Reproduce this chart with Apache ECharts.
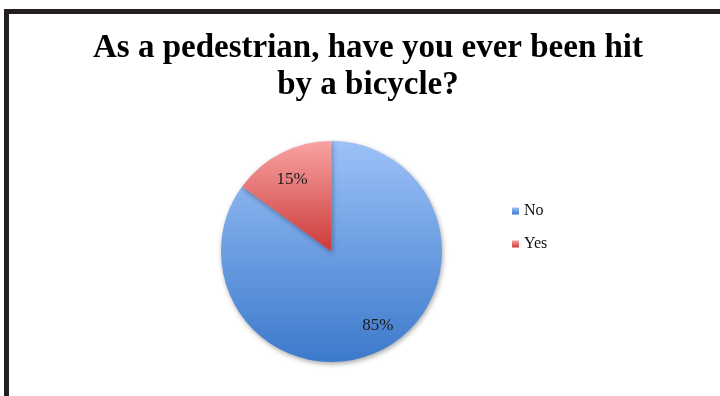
<!DOCTYPE html>
<html>
<head>
<meta charset="utf-8">
<script src="https://cdn.jsdelivr.net/npm/echarts@6/dist/echarts.min.js"></script>
<style>
  html, body { margin: 0; padding: 0; background: #ffffff; }
  #chart { width: 720px; height: 396px; }
</style>
</head>
<body>
<div id="chart"></div>
<script>
// Survey answers and their shares (percent)
const categories = ['No', 'Yes'];
const shares = [85, 15];
const titleText = 'As a pedestrian, have you ever been hit\nby a bicycle?';

// Vertical gradients for each slice: [top colour, bottom colour]
const sliceGradients = [
  ['#9cc1f8', '#3c7acb'],
  ['#f8a3a2', '#cc3a39']
];

const chart = echarts.init(document.getElementById('chart'), null, { renderer: 'canvas' });

const pieData = categories.map((name, i) => ({
  name: name,
  value: shares[i],
  itemStyle: {
    color: new echarts.graphic.LinearGradient(0, 0, 0, 1, [
      { offset: 0, color: sliceGradients[i][0] },
      { offset: 1, color: sliceGradients[i][1] }
    ])
  }
}));

// Nudges that move each percentage label out towards the rim
const labelNudge = [[20, 22], [-13, -20]];

chart.setOption({
  backgroundColor: '#ffffff',
  animation: false,
  title: {
    text: titleText,
    left: 363,
    top: 25,
    textAlign: 'center',
    textStyle: {
      fontFamily: 'Liberation Serif',
      fontWeight: 'bold',
      fontSize: 33,
      lineHeight: 37,
      color: '#000000'
    }
  },
  legend: {
    orient: 'vertical',
    left: 507,
    top: 198,
    itemWidth: 7,
    itemHeight: 7,
    itemGap: 17,
    icon: 'rect',
    data: categories,
    textStyle: {
      fontFamily: 'Liberation Serif',
      fontSize: 16,
      lineHeight: 16,
      color: '#111111'
    }
  },
  graphic: [
    { type: 'rect', shape: { x: 4, y: 9, width: 716, height: 5 }, style: { fill: '#231f20' } },
    { type: 'rect', shape: { x: 4, y: 9, width: 5, height: 387 }, style: { fill: '#231f20' } }
  ],
  series: [{
    type: 'pie',
    center: [331.5, 251.5],
    radius: [0, 110.5],
    startAngle: 90,
    clockwise: true,
    data: pieData,
    itemStyle: {
      shadowBlur: 5,
      shadowOffsetX: 1,
      shadowOffsetY: 2,
      shadowColor: 'rgba(0,0,0,0.35)'
    },
    label: {
      show: true,
      position: 'inside',
      formatter: '{c}%',
      fontFamily: 'Liberation Serif',
      fontSize: 17,
      color: '#1a1a1a'
    },
    labelLayout: function (p) {
      const n = labelNudge[p.dataIndex];
      return { dx: n[0], dy: n[1] };
    },
    emphasis: { disabled: true }
  }]
});
</script>
</body>
</html>
